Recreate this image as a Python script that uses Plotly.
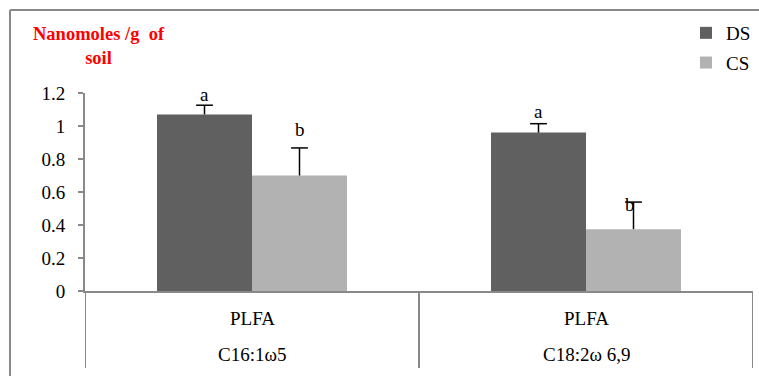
import plotly.graph_objects as go

# ---- data ----
compounds = ["C16:1ω5", "C18:2ω 6,9"]
group_label = ["PLFA", "PLFA"]
series_names = ["DS", "CS"]
ds_values = [1.07, 0.96]
ds_err = [0.056, 0.054]
cs_values = [0.70, 0.375]
cs_err = [0.167, 0.164]
ds_letters = ["a", "a"]
cs_letters = ["b", "b"]
y_ticks = [0, 0.2, 0.4, 0.6, 0.8, 1, 1.2]
y_tick_text = ["0", "0.2", "0.4", "0.6", "0.8", "1", "1.2"]

# ---- layout geometry (pixels) ----
W, H = 759, 376
L, R, T, B = 85, 753, 93, 291
def px_x(px):
    return (px - L) / (R - L)
def px_y(py):
    return (B - py) / (B - T)

FONT = "Liberation Serif, Times New Roman, serif"
GRAY = "#898989"
DS_COLOR = "#606060"
CS_COLOR = "#b2b2b2"
GAP = 1 - 190 / 334

fig = go.Figure()
for name, vals, errs, color, grp in [
    (series_names[0], ds_values, ds_err, DS_COLOR, "g1"),
    (series_names[1], cs_values, cs_err, CS_COLOR, "g2"),
]:
    fig.add_trace(go.Bar(
        x=compounds, y=vals, name=name, marker_color=color,
        marker_line_width=0, legendgroup=grp, offsetgroup=grp,
        error_y=dict(type="data", array=errs, arrayminus=[0] * len(errs),
                     symmetric=False, color="black", thickness=1.5, width=0),
    ))
for vals, errs, grp in [(ds_values, ds_err, "g1"), (cs_values, cs_err, "g2")]:
    fig.add_trace(go.Scatter(
        x=compounds, y=[v + e for v, e in zip(vals, errs)], mode="markers",
        offsetgroup=grp, legendgroup=grp, showlegend=False, hoverinfo="skip",
        marker=dict(symbol="line-ew", size=12, color="black",
                    line=dict(width=1.5, color="black")),
    ))

annotations = []
half_bar = 47.5
ds_shift = [11, 12]
cs_shift = [18, -2]
cs_xshift = [0, -4]
for i, c in enumerate(compounds):
    annotations.append(dict(x=c, y=ds_values[i] + ds_err[i], xref="x", yref="y",
                            text=ds_letters[i], showarrow=False, xshift=-half_bar,
                            yshift=ds_shift[i], yanchor="middle",
                            font=dict(family=FONT, size=19, color="black")))
    annotations.append(dict(x=c, y=cs_values[i] + cs_err[i], xref="x", yref="y",
                            text=cs_letters[i], showarrow=False,
                            xshift=half_bar + cs_xshift[i],
                            yshift=cs_shift[i], yanchor="middle",
                            font=dict(family=FONT, size=19, color="black")))
    annotations.append(dict(x=c, y=px_y(318), xref="x", yref="paper",
                            text=group_label[i], showarrow=False, yanchor="middle",
                            font=dict(family=FONT, size=19, color="black")))
    annotations.append(dict(x=c, y=px_y(354), xref="x", yref="paper",
                            text=c, showarrow=False, yanchor="middle",
                            font=dict(family=FONT, size=19, color="black")))

annotations.append(dict(x=px_x(99), y=px_y(46), xref="paper", yref="paper",
                        text="<b>Nanomoles /g&nbsp; of<br>soil</b>", showarrow=False,
                        xanchor="center", yanchor="middle", align="center",
                        font=dict(family=FONT, size=18.5, color="#ff0000")))

shapes = []
for xv in [-0.5, 0.5, 1.5]:
    shapes.append(dict(type="line", xref="x", yref="paper", x0=xv, x1=xv,
                       y0=0, y1=px_y(368), line=dict(color=GRAY, width=2)))
# outer chart frame: top and left edges (right/bottom lie outside the picture)
shapes.append(dict(type="line", xref="paper", yref="paper",
                   x0=px_x(10), x1=px_x(W), y0=px_y(10), y1=px_y(10),
                   line=dict(color=GRAY, width=2)))
shapes.append(dict(type="line", xref="paper", yref="paper",
                   x0=px_x(10), x1=px_x(10), y0=px_y(10), y1=px_y(H),
                   line=dict(color=GRAY, width=2)))

fig.update_layout(
    width=W, height=H,
    margin=dict(l=L, r=W - R, t=T, b=H - B, pad=0, autoexpand=False),
    paper_bgcolor="white", plot_bgcolor="white",
    barmode="group", bargap=GAP, bargroupgap=0,
    scattermode="group", scattergap=GAP,
    showlegend=True,
    legend=dict(x=px_x(686), y=px_y(14), xanchor="left", yanchor="top",
                font=dict(family=FONT, size=19, color="black"),
                bgcolor="rgba(0,0,0,0)", tracegroupgap=2, traceorder="grouped"),
    xaxis=dict(type="category", range=[-0.5, 1.5], showticklabels=False,
               showline=True, linecolor=GRAY, linewidth=2, ticks="",
               showgrid=False, zeroline=False, fixedrange=True),
    yaxis=dict(range=[0, 1.2], tickvals=y_ticks, ticktext=y_tick_text,
               showline=True, linecolor=GRAY, linewidth=2, ticks="outside",
               ticklen=5, tickcolor=GRAY, tickwidth=1.5, showgrid=False,
               zeroline=False, ticklabelstandoff=9,
               tickfont=dict(family=FONT, size=19, color="black")),
    annotations=annotations, shapes=shapes,
)

fig.write_html(
    "out.html", config={"displayModeBar": False},
    post_script=("document.body.style.margin='0px';"
                 "document.body.style.overflow='hidden';"
                 "document.documentElement.style.overflow='hidden';"),
)
